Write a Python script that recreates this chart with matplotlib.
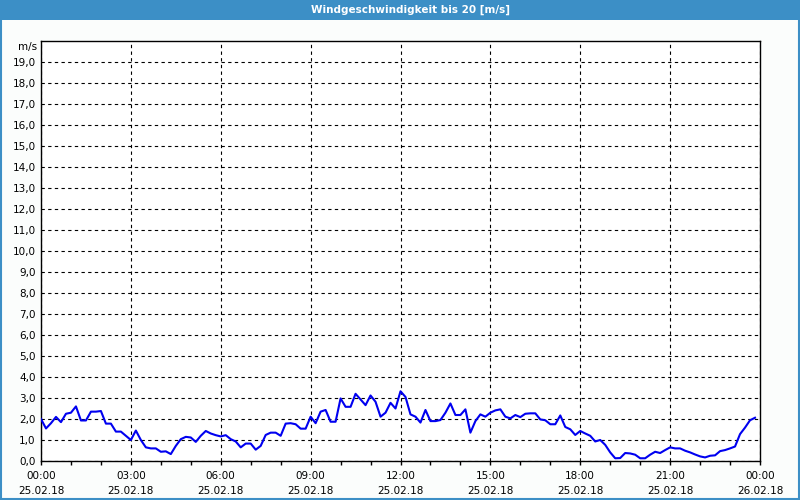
import numpy as np
import matplotlib.pyplot as plt
from matplotlib.patches import Rectangle

# wind speed in m/s, one value every 10 minutes from 25.02.18 00:00 to 23:50
wind = [
    2.00, 1.55, 1.80, 2.10, 1.85, 2.25, 2.30, 2.60, 1.93, 1.93, 2.35, 2.35,
    2.38, 1.78, 1.78, 1.40, 1.40, 1.20, 1.00, 1.45, 1.00, 0.65, 0.60, 0.60,
    0.44, 0.46, 0.33, 0.72, 1.04, 1.15, 1.12, 0.91, 1.20, 1.43, 1.31, 1.23,
    1.17, 1.23, 1.04, 0.93, 0.65, 0.83, 0.83, 0.54, 0.72, 1.24, 1.35, 1.35,
    1.20, 1.78, 1.80, 1.75, 1.54, 1.54, 2.11, 1.80, 2.35, 2.43, 1.87, 1.87,
    2.98, 2.58, 2.58, 3.20, 2.93, 2.66, 3.12, 2.82, 2.11, 2.30, 2.77, 2.50,
    3.32, 3.05, 2.22, 2.11, 1.83, 2.43, 1.90, 1.90, 1.95, 2.30, 2.74, 2.19,
    2.19, 2.46, 1.35, 1.90, 2.22, 2.11, 2.30, 2.41, 2.46, 2.11, 2.03, 2.19,
    2.09, 2.25, 2.27, 2.27, 1.98, 1.94, 1.75, 1.75, 2.17, 1.62, 1.51, 1.24,
    1.43, 1.31, 1.20, 0.93, 1.00, 0.77, 0.41, 0.13, 0.14, 0.38, 0.36, 0.30,
    0.13, 0.13, 0.30, 0.44, 0.38, 0.52, 0.65, 0.60, 0.60, 0.49, 0.41, 0.31,
    0.22, 0.17, 0.25, 0.27, 0.47, 0.52, 0.60, 0.69, 1.28, 1.59, 1.94, 2.06,
]
hours = np.arange(len(wind)) / 6.0

tick_hours = [0, 3, 6, 9, 12, 15, 18, 21, 24]
tick_times = ['00:00', '03:00', '06:00', '09:00', '12:00', '15:00', '18:00', '21:00', '00:00']
tick_dates = ['25.02.18'] * 8 + ['26.02.18']

y_ticks = list(range(20))
y_labels = ['%d,0' % v for v in range(20)]
unit = 'm/s'

title = 'Windgeschwindigkeit bis 20 [m/s]'

fig = plt.figure(figsize=(8, 5), dpi=100, facecolor='#fbfdfc')

# title bar + frame
fig.patches.append(Rectangle((0, 0.96), 1, 0.04, transform=fig.transFigure,
                             facecolor='#3c8fc6', edgecolor='none', zorder=0))
fig.patches.append(Rectangle((0.001, 0.002), 0.998, 0.996, transform=fig.transFigure,
                             facecolor='none', edgecolor='#3c8fc6', linewidth=1.5))
fig.text(0.513, 0.98, title, ha='center', va='center', color='white',
         fontsize=7.5, fontweight='bold')

ax = fig.add_axes([41 / 800, 39 / 500, 719 / 800, 420 / 500])
ax.set_facecolor('white')
ax.plot(hours, wind, color='#0000f0', linewidth=1.5, zorder=3)

ax.set_xlim(0, 24)
ax.set_ylim(0, 20)

ax.set_xticks(tick_hours)
ax.set_xticklabels([t + '\n' + d for t, d in zip(tick_times, tick_dates)],
                   fontsize=7.5, linespacing=1.7)
ax.set_xticks(range(25), minor=True)
ax.tick_params(axis='x', which='both', length=3, width=1, pad=4, direction='out')

ax.set_yticks(y_ticks)
ax.set_yticklabels(y_labels, fontsize=7.5)
ax.tick_params(axis='y', length=0, pad=4)
ax.text(-0.006, 19.7, unit, transform=ax.get_yaxis_transform(), ha='right',
        va='center', fontsize=7.5)

ax.grid(True, which='major', color='black', linestyle=(0, (3, 3)), linewidth=0.8)

for s in ax.spines.values():
    s.set_linewidth(1)
    s.set_color('black')

fig.savefig('out.png', dpi=100, facecolor=fig.get_facecolor())
